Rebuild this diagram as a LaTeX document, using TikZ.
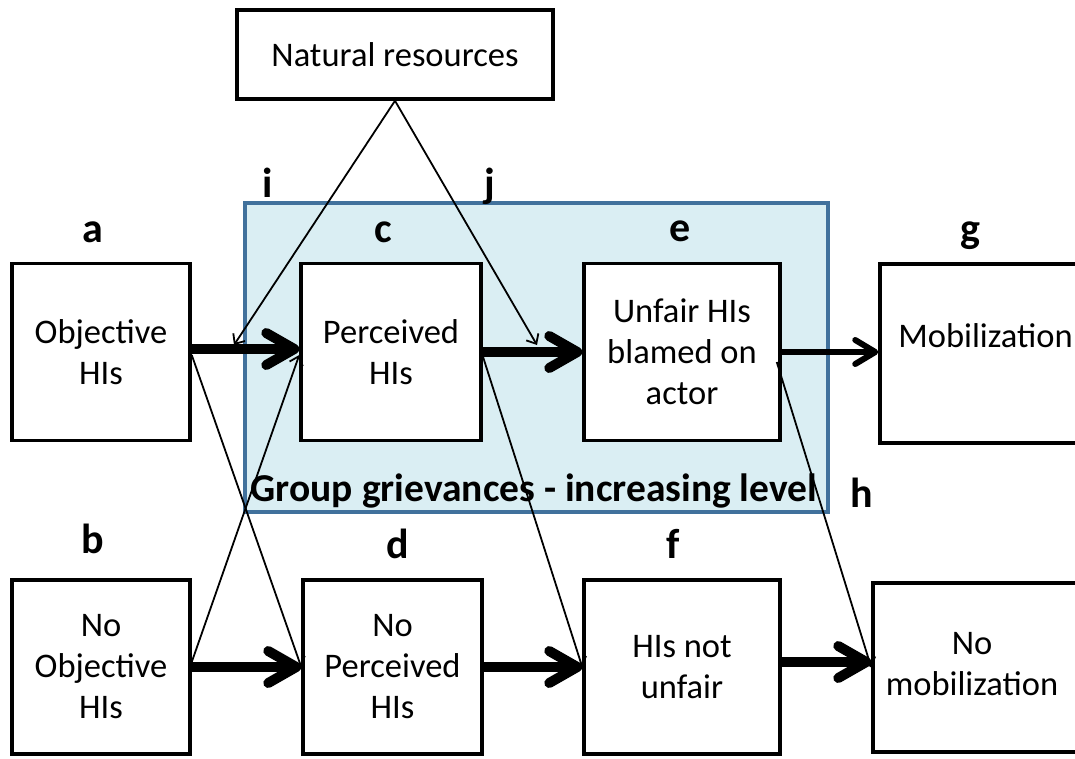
\documentclass[tikz,border=0pt]{standalone}
\usepackage{fontspec}
\setmainfont{Carlito}
\usetikzlibrary{arrows.meta}

\definecolor{grpfill}{HTML}{DAEEF3}
\definecolor{grpline}{HTML}{41719C}

\newcommand{\boxfont}{\fontsize{34.5}{41}\selectfont}
\newcommand{\tagfont}{\fontsize{42}{50}\selectfont\bfseries}
\newcommand{\grpfont}{\fontsize{39.5}{46}\selectfont\bfseries}

\tikzset{
  box/.style={draw, line width=3.5pt, fill=white, align=center, inner sep=0pt, font=\boxfont},
  boxtext/.style={align=center, font=\boxfont},
  tag/.style={anchor=base, inner sep=0pt, font=\tagfont},
  group/.style={draw=grpline, fill=grpfill, line width=3.5pt, inner sep=0pt},
  thickarrow/.style={line width=10pt, -{Straight Barb[round,length=28pt,width=32pt]}},
  midarrow/.style={line width=6pt, -{Straight Barb[round,length=20pt,width=24pt]}},
  thinarrow/.style={line width=1.8pt, -{Straight Barb[length=8pt,width=14pt]}}
}

\begin{document}
\begin{tikzpicture}[x=1pt, y=-1pt]
      \useasboundingbox (0,0) rectangle (1075,758);
      \clip (0,0) rectangle (1075,758);
      % shaded region
      \node[group, minimum width=583pt, minimum height=309pt] (grp) at (536.5,357.5) {};
      \node[anchor=base, inner sep=0pt, font=\grpfont] (grplabel) at (534,501) {Group grievances - increasing level};
      % boxes
      \node[box, minimum width=316pt, minimum height=89pt] (nr) at (395,54.5) {Natural resources};
      \node[box, minimum width=178pt, minimum height=177pt] (a) at (101,352) {Objective\\HIs};
      \node[box, minimum width=178pt, minimum height=174pt] (b) at (101,667) {No\\Objective\\HIs};
      \node[box, minimum width=180pt, minimum height=177pt] (c) at (391,352) {Perceived\\HIs};
      \node[box, minimum width=179pt, minimum height=174pt] (d) at (392.5,667) {No\\Perceived\\HIs};
      \node[box, minimum width=196pt, minimum height=177pt] (e) at (682,352) {Unfair HIs\\blamed on\\actor};
      \node[box, minimum width=196pt, minimum height=174pt] (f) at (682,667) {HIs not\\unfair};
      \node[box, minimum width=240pt, minimum height=179pt,
            label={[boxtext, xshift=-14.5pt, yshift=18pt]center:Mobilization}] (g) at (1000,353.5) {};
      \node[box, minimum width=240pt, minimum height=169pt,
            label={[boxtext, xshift=-21pt, yshift=3pt]center:No\\mobilization}] (h) at (993,667.5) {};
      % letters
      \node[tag] (la) at (93,242) {a};
      \node[tag] (lb) at (93,553) {b};
      \node[tag] (lc) at (383,242) {c};
      \node[tag] (ld) at (398,558) {d};
      \node[tag] (le) at (680,241) {e};
      \node[tag] (lf) at (673,558) {f};
      \node[tag] (lg) at (970,242) {g};
      \node[tag] (lh) at (862,507) {h};
      \node[tag] (li) at (268,197) {i};
      \node[tag] (lj) at (490,197) {j};
      % main paths
      \draw[thickarrow] ([yshift=3pt]a.east) -- ([yshift=3pt]c.west);
      \draw[thickarrow] (b.east) -- (d.west);
      \draw[thickarrow] (c.east) -- (e.west);
      \draw[thickarrow] (d.east) -- (f.west);
      \draw[thickarrow] ([yshift=5pt]f.east) -- ([yshift=5pt]f.east -| h.west);
      \draw[midarrow] (e.east) -- (e.east -| g.west);
      % cross paths
      \coordinate (ti) at (234,345);
      \coordinate (tj) at (537,345);
      \draw[thinarrow] (nr.south) -- (ti);
      \draw[thinarrow] (nr.south) -- (tj);
      \draw[thinarrow] ([yshift=-3pt]a.east) -- (d.west);
      \draw[thinarrow] ([yshift=5pt]b.east) -- ([yshift=-3pt]c.west);
      \draw[thinarrow] ([yshift=-4pt]c.east) -- (f.west);
      \draw[thinarrow] ([xshift=-5pt,yshift=-10pt]e.east) -- (h.west);
\end{tikzpicture}
\end{document}
